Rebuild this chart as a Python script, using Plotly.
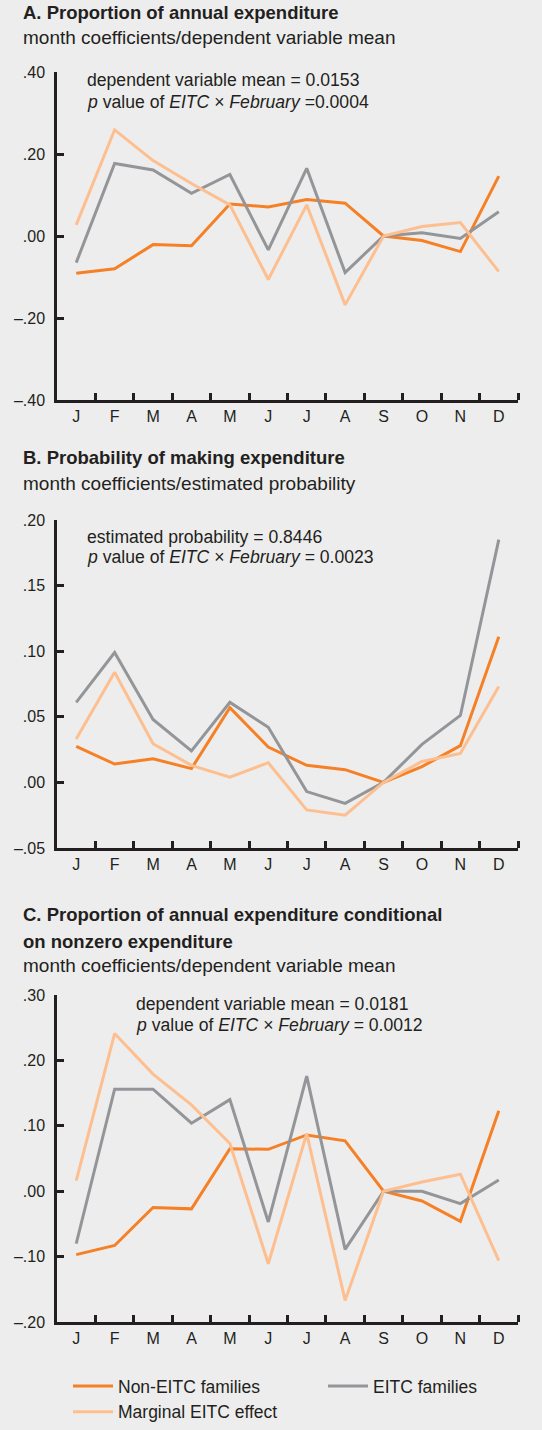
import plotly.graph_objects as go

W, H = 542, 1430

months = ['J', 'F', 'M', 'A', 'M', 'J', 'J', 'A', 'S', 'O', 'N', 'D']

# Panel A: proportion of annual expenditure
a_non_eitc = [-0.091, -0.080, -0.021, -0.024, 0.078, 0.071, 0.089, 0.080, 0.0, -0.011, -0.038, 0.146]
a_eitc = [-0.065, 0.177, 0.161, 0.104, 0.150, -0.034, 0.165, -0.089, 0.0, 0.008, -0.006, 0.059]
a_marginal = [0.027, 0.259, 0.184, 0.128, 0.076, -0.106, 0.076, -0.168, 0.0, 0.023, 0.033, -0.087]
a_ticks = [0.40, 0.20, 0.0, -0.20, -0.40]

# Panel B: probability of making expenditure
b_non_eitc = [0.0275, 0.014, 0.018, 0.0105, 0.057, 0.027, 0.013, 0.0097, 0.0, 0.012, 0.028, 0.111]
b_eitc = [0.061, 0.099, 0.048, 0.024, 0.061, 0.042, -0.007, -0.016, 0.0, 0.029, 0.051, 0.185]
b_marginal = [0.033, 0.084, 0.0295, 0.013, 0.004, 0.015, -0.021, -0.025, 0.0, 0.016, 0.022, 0.073]
b_ticks = [0.20, 0.15, 0.10, 0.05, 0.0, -0.05]

# Panel C: proportion conditional on nonzero expenditure
c_non_eitc = [-0.097, -0.083, -0.025, -0.027, 0.065, 0.064, 0.086, 0.077, 0.0, -0.015, -0.046, 0.123]
c_eitc = [-0.080, 0.156, 0.156, 0.104, 0.140, -0.047, 0.176, -0.089, 0.0, 0.0, -0.019, 0.017]
c_marginal = [0.016, 0.241, 0.179, 0.132, 0.073, -0.111, 0.088, -0.167, 0.0, 0.014, 0.026, -0.106]
c_ticks = [0.30, 0.20, 0.10, 0.0, -0.10, -0.20]

BG = '#ededed'
DARK = '#231f20'
ORANGE = '#f58025'
LIGHT = '#fdbf8f'
GREY = '#939598'
FONT = 'Liberation Sans'


def py(pix):
    return 1 - pix / H


def fmt(v):
    s = f'{abs(v):.2f}'.lstrip('0')
    return ('\u2013' if v < 0 else '') + s


panels = [
    dict(non=a_non_eitc, eitc=a_eitc, marg=a_marginal, ticks=a_ticks,
         rng=[-0.40, 0.40], top=72, bottom=400),
    dict(non=b_non_eitc, eitc=b_eitc, marg=b_marginal, ticks=b_ticks,
         rng=[-0.05, 0.20], top=520, bottom=848),
    dict(non=c_non_eitc, eitc=c_eitc, marg=c_marginal, ticks=c_ticks,
         rng=[-0.20, 0.30], top=995, bottom=1322),
]

# (name, data key, colour, legend box, rank)
series = [('Non-EITC families', 'non', ORANGE, 'legend', 1),
          ('EITC families', 'eitc', GREY, 'legend2', 1),
          ('Marginal EITC effect', 'marg', LIGHT, 'legend', 2)]

x = list(range(len(months)))

fig = go.Figure()
layout = {}
for i, p in enumerate(panels):
    sfx = '' if i == 0 else str(i + 1)
    xa, ya = 'x' + sfx, 'y' + sfx
    for name, key, color, leg, rank in series:
        fig.add_trace(go.Scatter(
            x=x, y=p[key], mode='lines', name=name,
            line=dict(color=color, width=3),
            xaxis=xa, yaxis=ya, showlegend=(i == 0),
            legend=leg, legendrank=rank
        ))
    layout['xaxis' + sfx] = dict(
        domain=[57 / W, 518 / W], anchor=ya, range=[-0.5, 11.5],
        tickmode='array', tickvals=x, ticktext=months, ticks='',
        showgrid=False, zeroline=False, automargin=False,
        showline=True, linecolor=DARK, linewidth=2.5,
        tickfont=dict(size=16, color=DARK, family=FONT),
        minor=dict(tickmode='array', tickvals=[v + 0.5 for v in x],
                   ticks='inside', ticklen=7, tickwidth=2.5, tickcolor=DARK,
                   showgrid=False),
    )
    layout['yaxis' + sfx] = dict(
        domain=[py(p['bottom']), py(p['top'])], anchor=xa, range=p['rng'],
        tickmode='array', tickvals=p['ticks'], ticktext=[fmt(v) for v in p['ticks']],
        ticks='inside', ticklen=7, tickwidth=2.5, tickcolor=DARK,
        showgrid=False, zeroline=False, automargin=False,
        showline=True, linecolor=DARK, linewidth=2.5,
        tickfont=dict(size=16, color=DARK, family=FONT),
        ticklabelstandoff=6,
    )

notes = [
    ('<b>A. Proportion of annual expenditure</b>', 21, 13, 18.5),
    ('month coefficients/dependent variable mean', 21, 38, 19),
    ('<b>B. Probability of making expenditure</b>', 21, 457, 18.5),
    ('month coefficients/estimated probability', 21, 483, 19),
    ('<b>C. Proportion of annual expenditure conditional</b>', 21, 914, 18.5),
    ('<b>on nonzero expenditure</b>', 21, 941, 18.5),
    ('month coefficients/dependent variable mean', 21, 966, 19),
    ('dependent variable mean = 0.0153', 85, 80, 17.6),
    ('<i>p</i> value of <i>EITC</i> \u00d7 <i>February</i> =0.0004', 85, 102, 17.6),
    ('estimated probability = 0.8446', 85, 537, 17.6),
    ('<i>p</i> value of <i>EITC</i> \u00d7 <i>February</i> = 0.0023', 85, 557, 17.6),
    ('dependent variable mean = 0.0181', 134, 1004, 17.6),
    ('<i>p</i> value of <i>EITC</i> \u00d7 <i>February</i> = 0.0012', 134, 1025, 17.6),
]
annotations = [
    dict(text=t, x=xp / W, y=py(yp), xref='paper', yref='paper',
         xanchor='left', yanchor='middle', showarrow=False,
         font=dict(size=s, color=DARK, family=FONT))
    for t, xp, yp, s in notes
]

legend_style = dict(orientation='v', xanchor='left', yanchor='bottom',
                    font=dict(size=17.5, color=DARK, family=FONT),
                    bgcolor='rgba(0,0,0,0)', traceorder='normal',
                    tracegroupgap=0, itemwidth=40)

fig.update_layout(
    width=W, height=H,
    margin=dict(l=0, r=0, t=0, b=0),
    paper_bgcolor=BG, plot_bgcolor=BG,
    font=dict(family=FONT, color=DARK),
    annotations=annotations,
    legend=dict(x=68 / W, y=0, **legend_style),
    legend2=dict(x=323 / W, y=26 / H, **legend_style),
    **layout
)

fig.write_html('out.html', config=dict(displayModeBar=False),
               post_script="document.body.style.margin='0';"
                           "document.body.style.overflow='hidden';")
